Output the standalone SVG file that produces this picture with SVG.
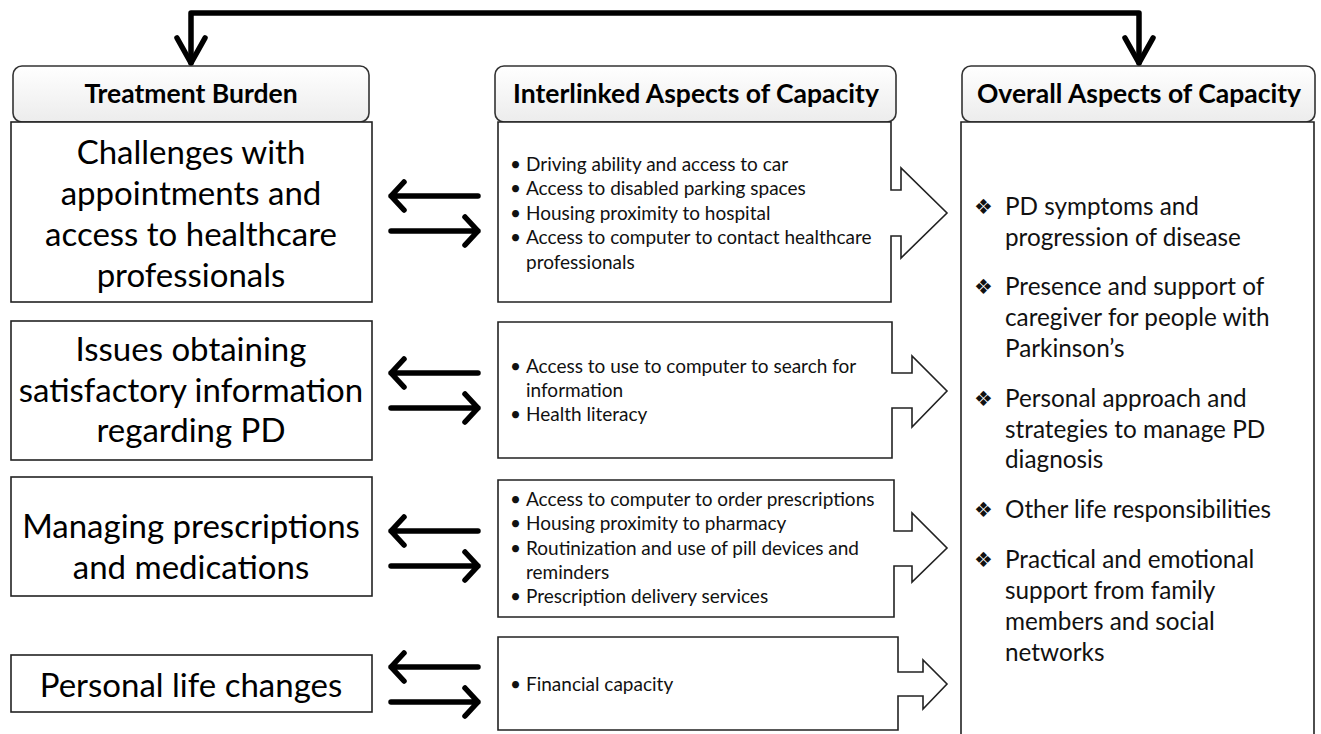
<svg xmlns="http://www.w3.org/2000/svg" width="1321" height="734" viewBox="0 0 1321 734">
<defs>
<linearGradient id="hg" x1="0" y1="0" x2="0" y2="1">
<stop offset="0" stop-color="#ffffff"/>
<stop offset="1" stop-color="#ececec"/>
</linearGradient>
</defs>
<style>
.hdr{fill:url(#hg);stroke:#333;stroke-width:1.6}
.box{fill:#fff;stroke:#222;stroke-width:1.6}
.ht{font-family:Lato,"Liberation Sans",sans-serif;font-weight:bold;font-size:26.5px;fill:#000;text-anchor:middle}
.lt{font-family:Lato,"Liberation Sans",sans-serif;font-size:33px;fill:#000;text-anchor:middle}
.mt{font-family:Lato,"Liberation Sans",sans-serif;font-size:19px;fill:#111}
.rt{font-family:Lato,"Liberation Sans",sans-serif;font-size:24.3px;fill:#111}
.rb{font-family:"DejaVu Sans",sans-serif;font-size:21px;fill:#111}
.con{fill:none;stroke:#000;stroke-width:5.5;stroke-linecap:round;stroke-linejoin:round}
</style>
<rect x="0" y="0" width="1321" height="734" fill="#fff"/>

<g id="connectors">
<path class="con" d="M191,63 V13 H1139 V63"/>
<path class="con" d="M177,38 L191,63 L205,38"/>
<path class="con" d="M1125,38 L1139,63 L1153,38"/>
<g id="row1-arrows">
<path class="con" d="M391,196 H478 M404,182 L391,196 L404,210"/>
<path class="con" d="M391,231 H478 M465,217 L478,231 L465,245"/>
</g>
<g id="row2-arrows">
<path class="con" d="M391,373 H478 M404,359 L391,373 L404,387"/>
<path class="con" d="M391,408 H478 M465,394 L478,408 L465,422"/>
</g>
<g id="row3-arrows">
<path class="con" d="M391,531 H478 M404,517 L391,531 L404,545"/>
<path class="con" d="M391,566 H478 M465,552 L478,566 L465,580"/>
</g>
<g id="row4-arrows">
<path class="con" d="M391,667 H478 M404,653 L391,667 L404,681"/>
<path class="con" d="M391,702 H478 M465,688 L478,702 L465,716"/>
</g>
</g>

<g id="header-treatment">
<rect class="hdr" x="13" y="66" width="356" height="56" rx="9"/>
<text class="ht" x="191" y="103">Treatment Burden</text>
</g>
<g id="header-interlinked">
<rect class="hdr" x="495" y="66" width="401" height="56" rx="9"/>
<text class="ht" x="696" y="103">Interlinked Aspects of Capacity</text>
</g>
<g id="header-overall">
<rect class="hdr" x="962" y="66" width="353" height="56" rx="9"/>
<text class="ht" x="1139" y="103">Overall Aspects of Capacity</text>
</g>

<g id="tb1">
<rect class="box" x="11" y="122" width="361" height="180"/>
<text class="lt" x="191" y="164">Challenges with</text>
<text class="lt" x="191" y="205">appointments and</text>
<text class="lt" x="191" y="246">access to healthcare</text>
<text class="lt" x="191" y="287">professionals</text>
</g>
<g id="tb2">
<rect class="box" x="11" y="321" width="361" height="139"/>
<text class="lt" x="191" y="361">Issues obtaining</text>
<text class="lt" x="191" y="402">satisfactory information</text>
<text class="lt" x="191" y="442">regarding PD</text>
</g>
<g id="tb3">
<rect class="box" x="11" y="477" width="361" height="119"/>
<text class="lt" x="191" y="538">Managing prescriptions</text>
<text class="lt" x="191" y="579">and medications</text>
</g>
<g id="tb4">
<rect class="box" x="11" y="655" width="361" height="57"/>
<text class="lt" x="191" y="697">Personal life changes</text>
</g>

<g id="ia1">
<path class="box" d="M498,122 H891 V190 H901 V168 L947,213 L901,258 V236 H891 V302 H498 Z"/>
<text class="mt" x="510" y="171">•</text><text class="mt" x="526" y="171">Driving ability and access to car</text>
<text class="mt" x="510" y="195">•</text><text class="mt" x="526" y="195">Access to disabled parking spaces</text>
<text class="mt" x="510" y="220">•</text><text class="mt" x="526" y="220">Housing proximity to hospital</text>
<text class="mt" x="510" y="244">•</text><text class="mt" x="526" y="244">Access to computer to contact healthcare</text>
<text class="mt" x="526" y="269">professionals</text>
</g>
<g id="ia2">
<path class="box" d="M498,322 H892 V373 H912 V356 L947,391 L912,427 V408 H892 V458 H498 Z"/>
<text class="mt" x="510" y="373">•</text><text class="mt" x="526" y="373">Access to use to computer to search for</text>
<text class="mt" x="526" y="397">information</text>
<text class="mt" x="510" y="421">•</text><text class="mt" x="526" y="421">Health literacy</text>
</g>
<g id="ia3">
<path class="box" d="M498,480 H894 V531 H912 V513 L947,548 L912,582 V566 H894 V617 H498 Z"/>
<text class="mt" x="510" y="506">•</text><text class="mt" x="526" y="506">Access to computer to order prescriptions</text>
<text class="mt" x="510" y="530">•</text><text class="mt" x="526" y="530">Housing proximity to pharmacy</text>
<text class="mt" x="510" y="555">•</text><text class="mt" x="526" y="555">Routinization and use of pill devices and</text>
<text class="mt" x="526" y="579">reminders</text>
<text class="mt" x="510" y="603">•</text><text class="mt" x="526" y="603">Prescription delivery services</text>
</g>
<g id="ia4">
<path class="box" d="M498,637 H898 V672 H923 V660 L947,684 L923,709 V696 H898 V730 H498 Z"/>
<text class="mt" x="510" y="691">•</text><text class="mt" x="526" y="691">Financial capacity</text>
</g>

<g id="overall">
<path class="box" d="M961,740 V122 H1314 V740"/>
<text class="rb" x="974" y="214">❖</text><text class="rt" x="1005" y="215">PD symptoms and</text>
<text class="rt" x="1005" y="246">progression of disease</text>
<text class="rb" x="974" y="294">❖</text><text class="rt" x="1005" y="295">Presence and support of</text>
<text class="rt" x="1005" y="326">caregiver for people with</text>
<text class="rt" x="1005" y="357">Parkinson’s</text>
<text class="rb" x="974" y="406">❖</text><text class="rt" x="1005" y="407">Personal approach and</text>
<text class="rt" x="1005" y="438">strategies to manage PD</text>
<text class="rt" x="1005" y="468">diagnosis</text>
<text class="rb" x="974" y="517">❖</text><text class="rt" x="1005" y="518">Other life responsibilities</text>
<text class="rb" x="974" y="567">❖</text><text class="rt" x="1005" y="568">Practical and emotional</text>
<text class="rt" x="1005" y="599">support from family</text>
<text class="rt" x="1005" y="630">members and social</text>
<text class="rt" x="1005" y="661">networks</text>
</g>
</svg>
